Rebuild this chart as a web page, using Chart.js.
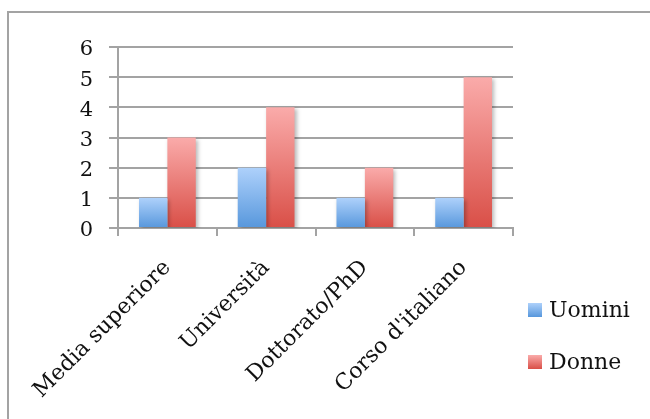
<!DOCTYPE html>
<html>
<head>
<meta charset="utf-8">
<script src="https://cdn.jsdelivr.net/npm/chart.js@4/dist/chart.umd.min.js"></script>
<style>
  html, body { margin: 0; padding: 0; background: #fff; }
  #wrap { position: relative; width: 650px; height: 419px; overflow: hidden; }
  #frame { position: absolute; left: 7px; top: 11px; width: 700px; height: 500px;
           border-top: 2px solid #a3a3a3; border-left: 2px solid #a3a3a3; box-sizing: border-box; }
  canvas { position: absolute; left: 0; top: 0; }
</style>
</head>
<body>
<div id="wrap">
  <div id="frame"></div>
  <canvas id="chart" width="650" height="419"></canvas>
</div>
<script>
const categories = ['Media superiore', 'Università', 'Dottorato/PhD', "Corso d'italiano"];
const seriesNames = ['Uomini', 'Donne'];
const uomini = [1, 2, 1, 1];
const donne = [3, 4, 2, 5];
const yTicks = [0, 1, 2, 3, 4, 5, 6];

const FONT = "'DejaVu Serif', 'Liberation Serif', serif";
const GRID = '#a3a3a3';

// top / bottom colour stops of each series' vertical gradient
const palettes = [
  { top: '#aed1fb', bottom: '#5797dc' },
  { top: '#faabaa', bottom: '#d94f47' }
];

// gradient that runs from the top of each bar down to its base
function barGradient(pal) {
  return (ctx) => {
    const chart = ctx.chart;
    const y = chart.scales && chart.scales.y;
    if (!y || ctx.type !== 'data' || !chart.chartArea) return pal.bottom;
    const v = ctx.raw;
    const top = y.getPixelForValue(v);
    const base = y.getPixelForValue(0);
    if (!isFinite(top) || !isFinite(base) || top === base) return pal.bottom;
    const g = chart.ctx.createLinearGradient(0, top, 0, base);
    g.addColorStop(0, pal.top);
    g.addColorStop(1, pal.bottom);
    return g;
  };
}

// soft drop shadow behind the bars
const barShadow = {
  id: 'barShadow',
  beforeDatasetsDraw(chart) {
    const c = chart.ctx;
    c.save();
    c.shadowColor = 'rgba(0,0,0,0.28)';
    c.shadowBlur = 4;
    c.shadowOffsetX = 2;
    c.shadowOffsetY = 2;
  },
  afterDatasetsDraw(chart) {
    chart.ctx.restore();
  }
};

// stacked legend on the right side, boxes filled with the series gradient
const sideLegend = {
  id: 'sideLegend',
  afterDraw(chart) {
    const c = chart.ctx;
    const x = 528, box = 14;
    const rows = [310, 362];
    c.save();
    c.font = '22px ' + FONT;
    c.textBaseline = 'middle';
    c.textAlign = 'left';
    chart.data.datasets.forEach((ds, i) => {
      const cy = rows[i];
      const pal = palettes[i];
      const g = c.createLinearGradient(0, cy - box / 2, 0, cy + box / 2);
      g.addColorStop(0, pal.top);
      g.addColorStop(1, pal.bottom);
      c.fillStyle = g;
      c.fillRect(x, cy - box / 2, box, box);
      c.fillStyle = '#111';
      c.fillText(ds.label, x + box + 7, cy + 1);
    });
    c.restore();
  }
};

new Chart(document.getElementById('chart'), {
  type: 'bar',
  data: {
    labels: categories,
    datasets: [
      { label: seriesNames[0], data: uomini, backgroundColor: barGradient(palettes[0]), borderWidth: 0 },
      { label: seriesNames[1], data: donne, backgroundColor: barGradient(palettes[1]), borderWidth: 0 }
    ]
  },
  options: {
    responsive: false,
    animation: false,
    layout: { padding: { left: 0, right: 137, top: 47, bottom: 0 } },
    datasets: { bar: { categoryPercentage: 0.575, barPercentage: 1.0 } },
    plugins: {
      legend: { display: false },
      tooltip: { enabled: false }
    },
    scales: {
      x: {
        grid: { offset: true, drawOnChartArea: false, drawTicks: true, tickLength: 8, color: GRID, lineWidth: 2 },
        border: { display: true, color: GRID, width: 2 },
        ticks: {
          autoSkip: false, minRotation: 45, maxRotation: 45,
          padding: 19, color: '#111',
          font: { family: FONT, size: 22 }
        },
        afterFit(scale) { scale.height = 419 - 228; }
      },
      y: {
        min: 0, max: 6,
        afterBuildTicks(scale) { scale.ticks = yTicks.map(v => ({ value: v })); },
        grid: { color: GRID, lineWidth: 2, drawTicks: true, tickLength: 9 },
        border: { display: true, color: GRID, width: 2 },
        ticks: {
          padding: 16, color: '#111', labelOffset: 3,
          font: { family: FONT, size: 21 }
        },
        afterFit(scale) { scale.width = 118; }
      }
    }
  },
  plugins: [barShadow, sideLegend]
});
</script>
</body>
</html>
